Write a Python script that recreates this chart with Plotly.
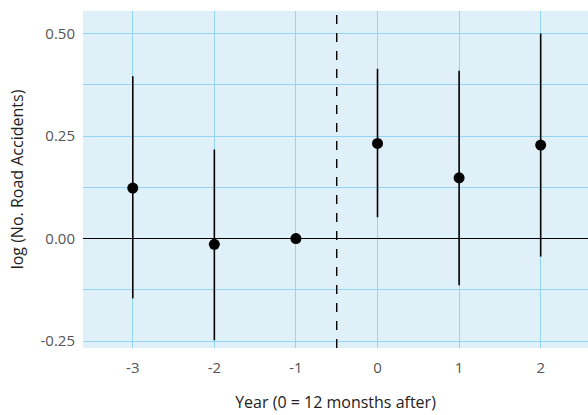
import plotly.graph_objects as go

years = [-3, -2, -1, 0, 1, 2]
estimates = [0.123, -0.014, 0.0, 0.232, 0.148, 0.228]
ci_upper = [0.396, 0.217, 0.0, 0.414, 0.409, 0.500]
ci_lower = [-0.146, -0.248, 0.0, 0.052, -0.114, -0.044]

err_plus = [u - e for u, e in zip(ci_upper, estimates)]
err_minus = [e - l for e, l in zip(estimates, ci_lower)]

fig = go.Figure()
fig.add_trace(go.Scatter(
    x=years, y=estimates, mode="markers",
    marker=dict(color="black", size=11),
    error_y=dict(type="data", symmetric=False, array=err_plus, arrayminus=err_minus,
                 color="black", thickness=1.6, width=0),
    showlegend=False,
))
fig.add_vline(x=-0.5, line=dict(color="black", width=1.4, dash="dash"))

grid = "#93D5F2"
fig.update_layout(
    width=588, height=415,
    margin=dict(l=83, r=0, t=11, b=67),
    paper_bgcolor="white", plot_bgcolor="#DFF0F8",
    font=dict(family="Open Sans, Noto Sans, sans-serif", size=15, color="#555555"),
    xaxis=dict(range=[-3.61, 2.58], tickvals=years, ticktext=[str(y) for y in years],
               showgrid=True, gridcolor=grid, gridwidth=1.2, zeroline=False,
               ticks="outside", ticklen=6, tickcolor="rgba(0,0,0,0)",
               title=dict(text="Year (0 = 12 monsths after)", font=dict(color="#222222", size=16), standoff=20)),
    yaxis=dict(range=[-0.267, 0.555], tickvals=[-0.25, 0.0, 0.25, 0.5],
               ticktext=["-0.25", "0.00", "0.25", "0.50"],
               showgrid=True, gridcolor=grid, gridwidth=1.2,
               ticks="outside", ticklen=4, tickcolor="rgba(0,0,0,0)",
               minor=dict(showgrid=True, gridcolor=grid, gridwidth=1.2, dtick=0.125, tick0=0.125),
               zeroline=True, zerolinecolor="black", zerolinewidth=1.3,
               title=dict(text="log (No. Road Accidents)", font=dict(color="#222222", size=16), standoff=12)),
)
fig.write_html("out.html", config={"displayModeBar": False},
               post_script="document.body.style.margin='0';document.body.style.overflow='hidden';")
